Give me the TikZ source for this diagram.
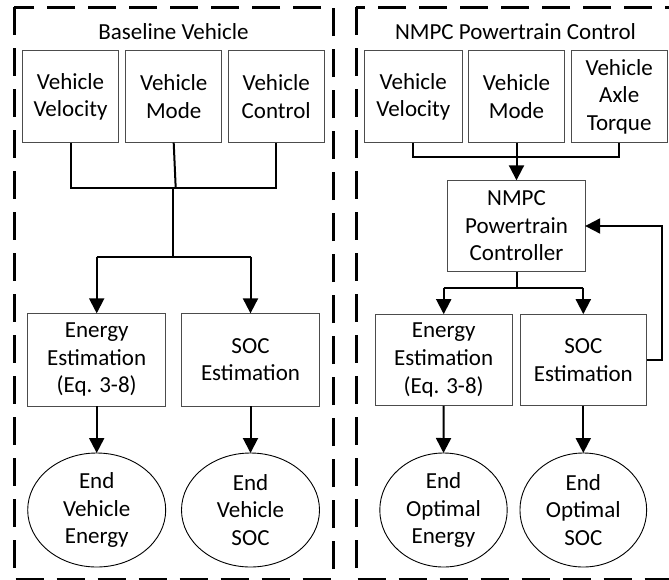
\documentclass[tikz,border=0pt]{standalone}
\usepackage{fontspec}
\setmainfont{Carlito}
\usetikzlibrary{arrows.meta,shapes.geometric}
\begin{document}
\begin{tikzpicture}[x=1pt,y=-1pt,
  every node/.style={font=\fontsize{23}{27.6}\selectfont, inner sep=0pt, outer sep=0pt, align=center},
  blk/.style={draw=black!70, line width=0.9pt, minimum height=92pt},
  term/.style={draw=black, line width=0.9pt, ellipse, minimum height=114pt},
  link/.style={line width=2pt},
  flow/.style={line width=2pt, -{Triangle[length=15pt,width=15pt]}},
  panel/.style={line width=3pt, dash pattern=on 28pt off 13pt}]
\useasboundingbox (0,0) rectangle (669,579);

% dashed panel frames
\draw[panel] (14,7) rectangle (333,579.5);
\draw[panel] (356,7) rectangle (690,579.5);

% ---------------- baseline vehicle ----------------
\node (ltitle) at (173.5,32) {Baseline Vehicle};
\node[blk, minimum width=95.6pt] (lvv)   at (70.5,96.7)  {Vehicle\\Velocity};
\node[blk, minimum width=96pt]   (lmode) at (173.7,96.7) {Vehicle\\Mode};
\node[blk, minimum width=95.7pt] (lctl)  at (276.2,96.7) {Vehicle\\Control};

\node[blk, minimum width=138pt, minimum height=92.7pt] (len)  at (96.7,359.7)  {Energy\\Estimation\\(Eq. 3-8)};
\node[blk, minimum width=137.6pt, minimum height=92.7pt] (lsoc) at (250.5,359.7) {SOC\\Estimation};

\node[term, minimum width=138pt] (lend)  at (96.7,510) {End\\Vehicle\\Energy};
\node[term, minimum width=138pt] (lendS) at (250.5,510) {End\\Vehicle\\SOC};

\coordinate (lj)  at (175.7,188);
\coordinate (lj2) at (173.3,188);
\coordinate (ls)  at (173.3,256.7);
\draw[link] (lvv.south) -- (lvv.south |- lj) -- (lctl.south |- lj) -- (lctl.south);
\draw[link] (lmode.south) -- (lj);
\draw[link] (lj2) -- (ls);
\draw[link] (len.north |- ls) -- (lsoc.north |- ls);
\draw[flow] (len.north |- ls) -- (len.north);
\draw[flow] (lsoc.north |- ls) -- (lsoc.north);
\draw[flow] (len.south) -- (lend.north);
\draw[flow] (lsoc.south) -- (lendS.north);

% ---------------- NMPC powertrain control ----------------
\node (rtitle) at (515.5,32) {NMPC Powertrain Control};
\node[blk, minimum width=98pt]   (rvv)   at (413.3,96.7) {Vehicle\\Velocity};
\node[blk, minimum width=96.7pt] (rmode) at (516.5,96.7) {Vehicle\\Mode};
\node[blk, minimum width=96.3pt] (rtq)   at (619.2,96.7) {Vehicle\\Axle\\Torque};

\node[blk, minimum width=137.3pt, minimum height=91.4pt] (nmpc) at (516.5,226) {NMPC\\Powertrain\\Controller};

\node[blk, minimum width=137.3pt, minimum height=91.7pt] (ren)  at (443.7,360) {Energy\\Estimation\\(Eq. 3-8)};
\node[blk, minimum width=126.7pt, minimum height=91.7pt] (rsoc) at (583.3,360) {SOC\\Estimation};

\node[term, minimum width=127.4pt] (rend)  at (443.5,510) {End\\Optimal\\Energy};
\node[term, minimum width=126.7pt] (rendS) at (583.3,510) {End\\Optimal\\SOC};

\coordinate (rj) at (516.5,157.3);
\coordinate (rs) at (516.5,287.7);
\coordinate (fb) at (661.7,226);
\draw[link] (rvv.south) -- (rvv.south |- rj) -- (rtq.south |- rj) -- (rtq.south);
\draw[flow] (rmode.south) -- (nmpc.north);
\draw[link] (nmpc.south) -- (rs);
\draw[link] (ren.north |- rs) -- (rsoc.north |- rs);
\draw[flow] (ren.north |- rs) -- (ren.north);
\draw[flow] (rsoc.north |- rs) -- (rsoc.north);
\draw[flow] (ren.south) -- (rend.north);
\draw[flow] (rsoc.south) -- (rendS.north);
\draw[flow] (rsoc.east) -- (rsoc.east -| fb) -- (fb) -- (nmpc.east);
\end{tikzpicture}
\end{document}
